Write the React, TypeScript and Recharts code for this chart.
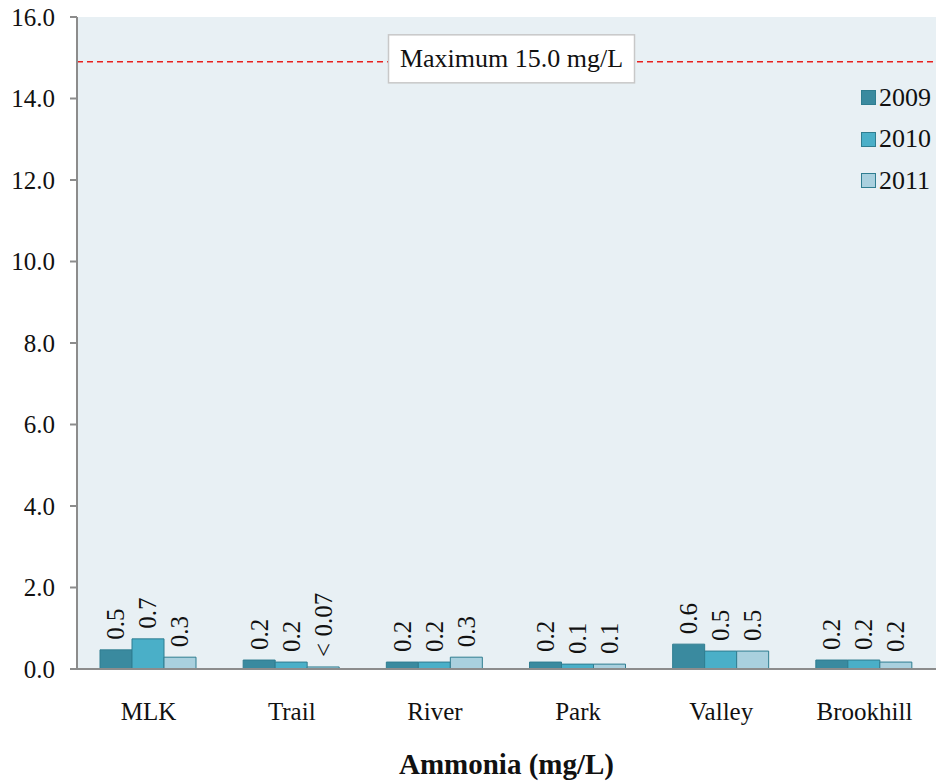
import { Bar, BarChart, CartesianGrid, Label, LabelList, ReferenceLine, XAxis, YAxis } from "recharts";

const sites = ["MLK", "Trail", "River", "Park", "Valley", "Brookhill"];
const values2009 = [0.47, 0.22, 0.17, 0.17, 0.61, 0.22];
const values2010 = [0.74, 0.17, 0.17, 0.12, 0.44, 0.22];
const values2011 = [0.29, 0.05, 0.29, 0.12, 0.44, 0.17];
const labels2009 = ["0.5", "0.2", "0.2", "0.2", "0.6", "0.2"];
const labels2010 = ["0.7", "0.2", "0.2", "0.1", "0.5", "0.2"];
const labels2011 = ["0.3", "< 0.07", "0.3", "0.1", "0.5", "0.2"];
const yTicks = [0, 2, 4, 6, 8, 10, 12, 14, 16];
const maxLimit = 14.9;
const maxLabel = "Maximum 15.0 mg/L";

const data = sites.map((site, i) => ({
  site,
  y2009: values2009[i],
  y2010: values2010[i],
  y2011: values2011[i],
  l2009: labels2009[i],
  l2010: labels2010[i],
  l2011: labels2011[i],
}));

const FONT = "'Liberation Serif', 'Times New Roman', serif";
const AXIS = { stroke: "#8c8c8c", strokeWidth: 2 };

const series = [
  { key: "y2009", label: "l2009", name: "2009", fill: "#3a8a9f" },
  { key: "y2010", label: "l2010", name: "2010", fill: "#4aafc8" },
  { key: "y2011", label: "l2011", name: "2011", fill: "#a9d0de" },
];

function VerticalValue(props: any) {
  const { x, y, width, value } = props;
  const cx = x + width / 2;
  const ty = y - 10;
  return (
    <text
      x={cx}
      y={ty}
      transform={`rotate(-90 ${cx} ${ty})`}
      textAnchor="start"
      dominantBaseline="central"
      fontSize={25}
      fontFamily={FONT}
      fill="#111"
    >
      {value}
    </text>
  );
}

function MaxBox(props: any) {
  const { viewBox } = props;
  const cx = viewBox.x + viewBox.width / 2 + 5;
  const cy = viewBox.y - 3;
  return (
    <g>
      <rect x={cx - 123} y={cy - 24} width={246} height={48} fill="#fff" stroke="#c8c8c8" strokeWidth={1.5} />
      <text x={cx} y={cy} textAnchor="middle" dominantBaseline="central" fontSize={26} fontFamily={FONT} fill="#111">
        {maxLabel}
      </text>
    </g>
  );
}

function LegendBox() {
  return (
    <div style={{ position: "absolute", left: 861, top: 77, fontFamily: FONT, fontSize: 26, color: "#111" }}>
      {series.map((s) => (
        <div key={s.key} style={{ display: "flex", alignItems: "center", height: 41.5 }}>
          <span
            style={{
              display: "inline-block",
              width: 13,
              height: 13,
              background: s.fill,
              border: "1px solid #2f7d90",
              marginRight: 3,
            }}
          />
          {s.name}
        </div>
      ))}
    </div>
  );
}

export default function App() {
  return (
    <div style={{ position: "absolute", left: 0, top: 0, width: 936, height: 784, background: "#fff" }}>
      <BarChart
        width={936}
        height={784}
        data={data}
        margin={{ top: 17, right: 0, left: 0, bottom: 0 }}
        barCategoryGap={23}
        barGap={0}
      >
        <CartesianGrid horizontal={false} vertical={false} fill="#e8f0f4" stroke="none" />
        <XAxis
          dataKey="site"
          axisLine={AXIS}
          tickLine={false}
          tick={{ fill: "#111", fontSize: 25, fontFamily: FONT }}
          tickMargin={27}
          height={115}
        >
          <Label
            value="Ammonia (mg/L)"
            position="insideBottom"
            offset={10}
            style={{ fontFamily: FONT, fontSize: 29, fontWeight: "bold", fill: "#111" }}
          />
        </XAxis>
        <YAxis
          width={77}
          domain={[0, 16]}
          ticks={yTicks}
          interval={0}
          axisLine={AXIS}
          tickLine={{ stroke: "#8c8c8c", strokeWidth: 2 }}
          tickSize={7}
          tickMargin={15}
          tickFormatter={(v) => Number(v).toFixed(1)}
          tick={{ fill: "#111", fontSize: 25, fontFamily: FONT }}
        />
        <ReferenceLine y={maxLimit} stroke="#e8201e" strokeWidth={1.5} strokeDasharray="6 4" label={<MaxBox />} />
        {series.map((s) => (
          <Bar key={s.key} dataKey={s.key} name={s.name} fill={s.fill} stroke="#2f7d90" strokeWidth={1} isAnimationActive={false}>
            <LabelList dataKey={s.label} content={<VerticalValue />} />
          </Bar>
        ))}
      </BarChart>
      <LegendBox />
    </div>
  );
}
